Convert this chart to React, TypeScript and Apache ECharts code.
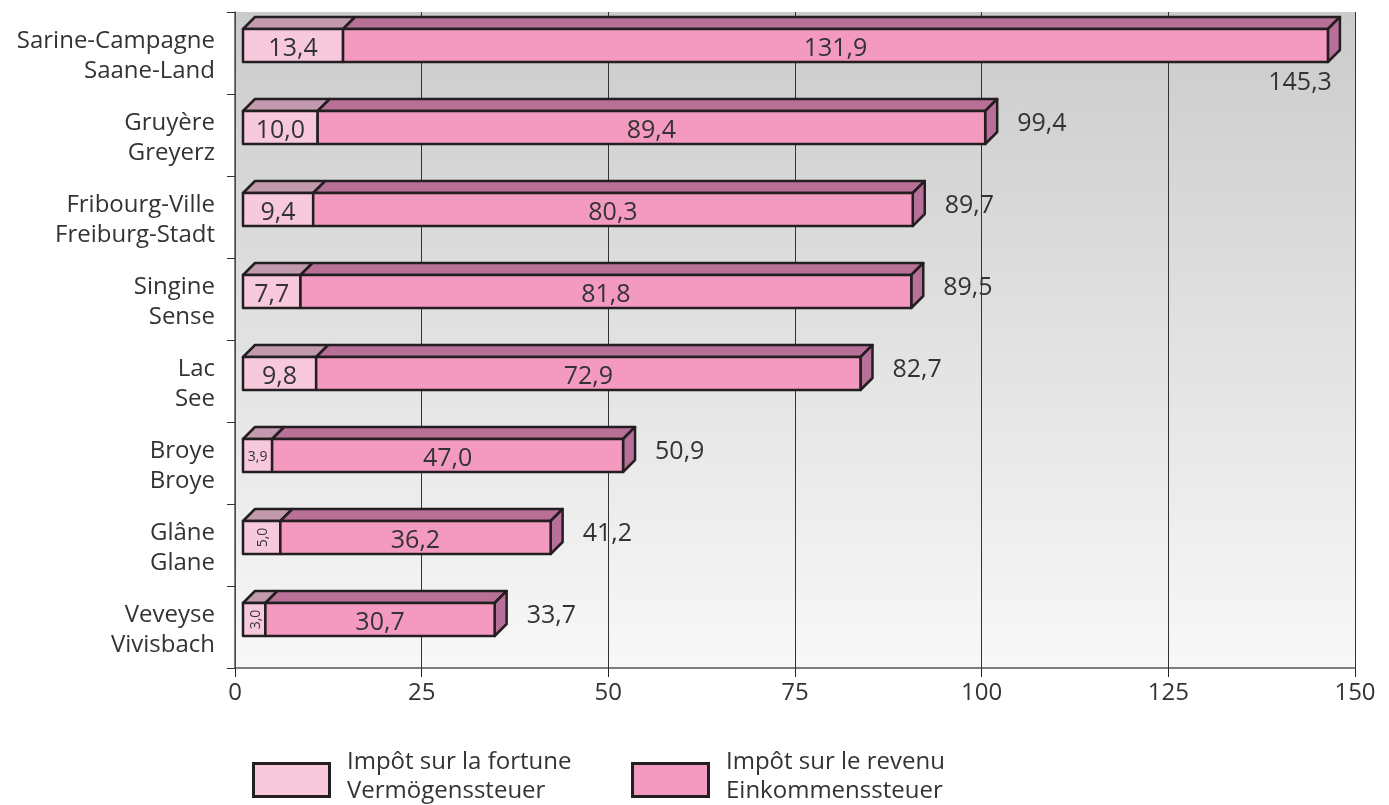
import React, { useEffect, useRef } from 'react';
import * as echarts from 'echarts';

const namesFr = ['Sarine-Campagne', 'Gruyère', 'Fribourg-Ville', 'Singine', 'Lac', 'Broye', 'Glâne', 'Veveyse'];
const namesDe = ['Saane-Land', 'Greyerz', 'Freiburg-Stadt', 'Sense', 'See', 'Broye', 'Glane', 'Vivisbach'];
const fortune = [13.4, 10.0, 9.4, 7.7, 9.8, 3.9, 5.0, 3.0];
const income = [131.9, 89.4, 80.3, 81.8, 72.9, 47.0, 36.2, 30.7];
const totals = [145.3, 99.4, 89.7, 89.5, 82.7, 50.9, 41.2, 33.7];
const xMin = 0;
const xMax = 150;
const xInterval = 25;
const verticalLabelCats = ['Glâne', 'Veveyse'];
const legendFortune = ['Impôt sur la fortune', 'Vermögenssteuer'];
const legendIncome = ['Impôt sur le revenu', 'Einkommenssteuer'];

const fmt = (v: number) => v.toFixed(1).replace('.', ',');

const FONT = "'Open Sans', 'DejaVu Sans', sans-serif";
const INK = '#231f20';
const C_F_FRONT = '#f8c8dd';
const C_F_TOP = '#c19aae';
const C_I_FRONT = '#f49ac1';
const C_I_TOP = '#b87097';
const C_I_SIDE = '#b8709a';

export default function App() {
  const ref = useRef<HTMLDivElement>(null);
  useEffect(() => {
    document.body.style.margin = '0';
    const chart = echarts.init(ref.current!, null, { renderer: 'svg' });
    const D = 12;
    const SHIFT = 8;
    const renderItem = (params: any, api: any) => {
      const i = api.value(0);
      const f = api.value(1);
      const inc = api.value(2);
      const tot = api.value(3);
      const c = api.coord([0, i]);
      const yc = c[1];
      const top = yc - 24;
      const bot = yc + 9;
      const x0 = c[0] + SHIFT;
      const x1 = api.coord([f, i])[0] + SHIFT;
      const x2 = api.coord([f + inc, i])[0] + SHIFT;
      const xRight = api.coord([xMax, i])[0];
      const st = { stroke: INK, lineWidth: 2.5, lineJoin: 'round' };
      const children: any[] = [
        { type: 'polygon', shape: { points: [[x0, top], [x1, top], [x1 + D, top - D], [x0 + D, top - D]] }, style: { fill: C_F_TOP, ...st } },
        { type: 'polygon', shape: { points: [[x1, top], [x2, top], [x2 + D, top - D], [x1 + D, top - D]] }, style: { fill: C_I_TOP, ...st } },
        { type: 'polygon', shape: { points: [[x2, top], [x2 + D, top - D], [x2 + D, bot - D], [x2, bot]] }, style: { fill: C_I_SIDE, ...st } },
        { type: 'rect', shape: { x: x0, y: top, width: x1 - x0, height: bot - top }, style: { fill: C_F_FRONT, ...st } },
        { type: 'rect', shape: { x: x1, y: top, width: x2 - x1, height: bot - top }, style: { fill: C_I_FRONT, ...st } },
      ];
      const fy = (top + bot) / 2;
      const fw = x1 - x0;
      if (verticalLabelCats.indexOf(namesFr[i]) >= 0) {
        children.push({ type: 'text', x: (x0 + x1) / 2, y: fy, rotation: Math.PI / 2, style: { text: fmt(f), fontSize: 14, fontFamily: FONT, fill: '#333', align: 'center', verticalAlign: 'middle' } });
      } else {
        children.push({ type: 'text', x: (x0 + x1) / 2, y: fy, style: { text: fmt(f), fontSize: fw < 45 ? 14 : 25, fontFamily: FONT, fill: '#333', align: 'center', verticalAlign: 'middle' } });
      }
      children.push({ type: 'text', x: (x1 + x2) / 2, y: fy, style: { text: fmt(inc), fontSize: 25, fontFamily: FONT, fill: '#333', align: 'center', verticalAlign: 'middle' } });
      if (x2 + 40 + 70 > xRight) {
        children.push({ type: 'text', x: x2 + 4, y: bot + 18, style: { text: fmt(tot), fontSize: 25, fontFamily: FONT, fill: '#333', align: 'right', verticalAlign: 'middle' } });
      } else {
        children.push({ type: 'text', x: x2 + 32, y: fy - 7, style: { text: fmt(tot), fontSize: 25, fontFamily: FONT, fill: '#333', align: 'left', verticalAlign: 'middle' } });
      }
      return { type: 'group', children };
    };

    const legendItem = (x: number, color: string, lines: string[]) => [
      { type: 'rect', left: x, top: 762, shape: { width: 76, height: 33 }, style: { fill: color, stroke: INK, lineWidth: 3 } },
      { type: 'text', left: x + 95, top: 747, style: { text: lines[0], fontSize: 24, fontFamily: FONT, fill: '#333' } },
      { type: 'text', left: x + 95, top: 776, style: { text: lines[1], fontSize: 24, fontFamily: FONT, fill: '#333' } },
    ];

    chart.setOption({
      animation: false,
      textStyle: { fontFamily: FONT },
      grid: {
        left: 235, right: 34, top: 12, bottom: 137, show: true, borderWidth: 0,
        backgroundColor: { type: 'linear', x: 0, y: 0, x2: 0, y2: 1, colorStops: [{ offset: 0, color: '#cbcbcb' }, { offset: 1, color: '#f8f8f8' }] },
      },
      xAxis: {
        type: 'value', min: xMin, max: xMax, interval: xInterval,
        axisLine: { show: true, lineStyle: { color: '#555', width: 1.5 } },
        axisTick: { show: true, length: 9, lineStyle: { color: '#222', width: 1 } },
        axisLabel: { fontSize: 24, color: '#333', margin: 10, fontFamily: FONT },
        splitLine: { show: true, lineStyle: { color: '#333', width: 1 } },
      },
      yAxis: {
        type: 'category', inverse: true,
        data: namesFr.map((n, i) => n + '\n' + namesDe[i]),
        axisLine: { show: true, lineStyle: { color: '#555', width: 1.5 } },
        axisTick: { show: true, length: 8, lineStyle: { color: '#333' } },
        axisLabel: { fontSize: 24, lineHeight: 30, color: '#333', margin: 20, align: 'right', fontFamily: FONT },
        splitLine: { show: false },
      },
      series: [{
        type: 'custom',
        renderItem,
        clip: false,
        data: fortune.map((f, i) => [i, f, income[i], totals[i]]),
        encode: { x: [1], y: 0 },
      }],
      graphic: [...legendItem(252, C_F_FRONT, legendFortune), ...legendItem(631, C_I_FRONT, legendIncome)],
    });
    return () => chart.dispose();
  }, []);
  return <div ref={ref} style={{ position: 'fixed', left: 0, top: 0, width: 1389, height: 805 }} />;
}
